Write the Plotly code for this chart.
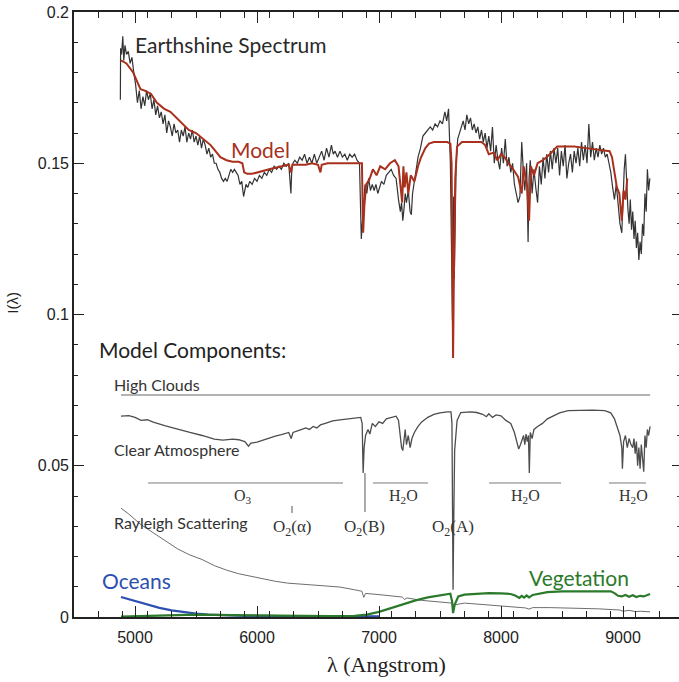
import plotly.graph_objects as go

# ---------------- data ----------------
# Observed earthshine spectrum (wavelength in Angstrom, intensity)
es_wl = [4880, 4882, 4890, 4900, 4908, 4918, 4930, 4945, 4960, 4975, 4990, 5005, 5020, 5035,
         5050, 5065, 5080, 5095, 5110, 5125, 5140, 5155, 5170, 5185, 5200, 5215, 5230, 5245,
         5260, 5275, 5290, 5305, 5320, 5335, 5350, 5365, 5380, 5395, 5410, 5425, 5440, 5455,
         5470, 5485, 5500, 5515, 5530, 5545, 5560, 5575, 5590, 5605, 5620, 5635, 5650, 5665,
         5680, 5695, 5710, 5725, 5740, 5755, 5770, 5785, 5800, 5815, 5830, 5845, 5860, 5875,
         5890, 5900, 5910, 5925, 5940, 5960, 5980, 6000, 6020, 6040, 6060, 6080, 6100, 6120,
         6140, 6160, 6180, 6200, 6220, 6240, 6260, 6278, 6285, 6295, 6310, 6330, 6350, 6370,
         6390, 6410, 6430, 6450, 6470, 6490, 6510, 6530, 6550, 6570, 6590, 6610, 6625, 6640,
         6660, 6680, 6700, 6720, 6740, 6760, 6780, 6800, 6820, 6840, 6855, 6870, 6885, 6900,
         6915, 6930, 6945, 6960, 6975, 6990, 7005, 7020, 7040, 7060, 7080, 7100, 7120, 7140,
         7160, 7175, 7185, 7195, 7205, 7215, 7225, 7240, 7255, 7265, 7275, 7290, 7305, 7320,
         7340, 7360, 7380, 7400, 7420, 7440, 7460, 7480, 7500, 7520, 7540, 7555, 7570, 7585,
         7596, 7602, 7607, 7612, 7617, 7623, 7632, 7645, 7660, 7675, 7690, 7705, 7720, 7735,
         7750, 7765, 7780, 7795, 7810, 7825, 7840, 7855, 7870, 7885, 7900, 7915, 7930, 7945,
         7960, 7975, 7990, 8005, 8020, 8035, 8050, 8065, 8080, 8095, 8110, 8125, 8140, 8155,
         8170, 8185, 8195, 8210, 8222, 8230, 8240, 8255, 8270, 8285, 8300, 8315, 8330, 8345,
         8360, 8375, 8390, 8405, 8420, 8435, 8450, 8465, 8480, 8495, 8510, 8525, 8540, 8555,
         8570, 8585, 8600, 8615, 8630, 8645, 8660, 8675, 8690, 8705, 8720, 8735, 8750, 8765,
         8780, 8795, 8810, 8825, 8840, 8855, 8870, 8885, 8900, 8915, 8930, 8945, 8960, 8975,
         8990, 9000, 9010, 9020, 9030, 9040, 9050, 9060, 9070, 9080, 9090, 9100, 9110, 9120,
         9130, 9140, 9150, 9160, 9170, 9180, 9190, 9200, 9210, 9220, 9228]
es_val = [0.171, 0.188, 0.186, 0.192, 0.184, 0.189, 0.186, 0.187, 0.183, 0.185, 0.180, 0.176,
          0.170, 0.174, 0.168, 0.172, 0.169, 0.174, 0.171, 0.173, 0.168, 0.171, 0.166, 0.169,
          0.165, 0.167, 0.163, 0.166, 0.160, 0.164, 0.162, 0.159, 0.163, 0.160, 0.161, 0.157,
          0.161, 0.159, 0.162, 0.157, 0.160, 0.158, 0.161, 0.157, 0.159, 0.156, 0.159, 0.155,
          0.158, 0.156, 0.153, 0.155, 0.152, 0.153, 0.150, 0.150, 0.148, 0.147, 0.145, 0.144,
          0.145, 0.144, 0.146, 0.148, 0.147, 0.148, 0.147, 0.146, 0.143, 0.144, 0.139, 0.141,
          0.143, 0.142, 0.144, 0.143, 0.145, 0.144, 0.146, 0.145, 0.147, 0.146, 0.148, 0.147,
          0.149, 0.148, 0.149, 0.148, 0.150, 0.149, 0.150, 0.140, 0.148, 0.150, 0.151, 0.150,
          0.152, 0.151, 0.153, 0.150, 0.152, 0.150, 0.153, 0.150, 0.152, 0.154, 0.151, 0.155,
          0.152, 0.156, 0.153, 0.154, 0.152, 0.154, 0.152, 0.153, 0.151, 0.153, 0.152, 0.153,
          0.151, 0.150, 0.125, 0.136, 0.143, 0.140, 0.145, 0.141, 0.143, 0.141, 0.143, 0.140,
          0.142, 0.144, 0.143, 0.146, 0.147, 0.148, 0.146, 0.145, 0.138, 0.134, 0.137, 0.131,
          0.135, 0.140, 0.137, 0.141, 0.134, 0.133, 0.140, 0.144, 0.149, 0.152, 0.155, 0.159,
          0.160, 0.161, 0.162, 0.161, 0.163, 0.162, 0.164, 0.163, 0.167, 0.164, 0.168, 0.150,
          0.105, 0.098, 0.108, 0.139, 0.112, 0.135, 0.150, 0.158, 0.160, 0.162, 0.164, 0.161,
          0.166, 0.163, 0.165, 0.161, 0.163, 0.160, 0.162, 0.158, 0.161, 0.157, 0.160, 0.155,
          0.159, 0.154, 0.162, 0.150, 0.156, 0.151, 0.148, 0.155, 0.150, 0.158, 0.149, 0.152,
          0.147, 0.150, 0.143, 0.140, 0.137, 0.139, 0.157, 0.146, 0.141, 0.150, 0.124, 0.145,
          0.151, 0.140, 0.148, 0.142, 0.137, 0.149, 0.143, 0.152, 0.145, 0.153, 0.147, 0.154,
          0.148, 0.155, 0.150, 0.155, 0.146, 0.154, 0.149, 0.156, 0.145, 0.150, 0.153, 0.147,
          0.154, 0.150, 0.155, 0.149, 0.157, 0.151, 0.156, 0.150, 0.163, 0.152, 0.157, 0.151,
          0.155, 0.152, 0.156, 0.153, 0.155, 0.152, 0.153, 0.150, 0.147, 0.142, 0.138, 0.143,
          0.137, 0.130, 0.127, 0.140, 0.148, 0.153, 0.141, 0.135, 0.130, 0.138, 0.128, 0.134,
          0.125, 0.131, 0.122, 0.127, 0.118, 0.124, 0.120, 0.130, 0.126, 0.140, 0.134, 0.148,
          0.141, 0.145]

# Fitted model spectrum
model_wl = [4885, 4930, 4985, 5020, 5045, 5080, 5130, 5180, 5240, 5290, 5340, 5390, 5440,
            5500, 5560, 5620, 5660, 5700, 5750, 5800, 5850, 5880, 5895, 5920, 5960, 6000,
            6050, 6100, 6150, 6200, 6260, 6280, 6290, 6350, 6400, 6450, 6500, 6520, 6530,
            6580, 6860, 6870, 6880, 6895, 6920, 6950, 6980, 7010, 7050, 7090, 7130, 7160,
            7175, 7190, 7200, 7210, 7225, 7240, 7260, 7290, 7320, 7345, 7380, 7410, 7450,
            7500, 7560, 7585, 7595, 7601, 7607, 7613, 7625, 7640, 7680, 7760, 7840, 7870,
            7900, 7940, 7970, 8000, 8030, 8060, 8100, 8140, 8170, 8185, 8200, 8215, 8230,
            8245, 8270, 8300, 8344, 8400, 8460, 8520, 8600, 8700, 8800, 8890, 8910, 8930,
            8950, 8970, 8990, 9005, 9020, 9035]
model_val = [0.184, 0.183, 0.180, 0.177, 0.1745, 0.174, 0.173, 0.170, 0.168, 0.167, 0.165,
             0.163, 0.161, 0.160, 0.158, 0.156, 0.154, 0.152, 0.151, 0.1505, 0.1505, 0.150,
             0.147, 0.1465, 0.1465, 0.147, 0.1475, 0.148, 0.1485, 0.149, 0.1495, 0.147,
             0.1495, 0.1495, 0.1495, 0.150, 0.1495, 0.147, 0.1495, 0.150, 0.150, 0.127,
             0.136, 0.143, 0.1445, 0.148, 0.146, 0.149, 0.148, 0.150, 0.151, 0.149, 0.143,
             0.137, 0.149, 0.142, 0.147, 0.140, 0.146, 0.144, 0.149, 0.152, 0.155, 0.1565,
             0.157, 0.157, 0.157, 0.1565, 0.150, 0.120, 0.0856, 0.110, 0.145, 0.1555, 0.157,
             0.157, 0.157, 0.156, 0.153, 0.1535, 0.151, 0.153, 0.152, 0.150, 0.148, 0.1455,
             0.140, 0.149, 0.145, 0.142, 0.131, 0.149, 0.146, 0.150, 0.151, 0.153, 0.1555,
             0.1555, 0.1555, 0.155, 0.1545, 0.154, 0.152, 0.147, 0.142, 0.140, 0.131, 0.141,
             0.138, 0.145]

# Model components
clouds_wl = [4885, 9222]
clouds_val = [0.0734, 0.0734]

clear_wl = [4885, 4950, 5000, 5050, 5100, 5150, 5250, 5350, 5450, 5550, 5650, 5720, 5800,
            5850, 5900, 5930, 5950, 6000, 6050, 6100, 6150, 6200, 6260, 6280, 6295, 6350,
            6400, 6430, 6460, 6490, 6520, 6560, 6620, 6680, 6750, 6850, 6862, 6870, 6878,
            6890, 6910, 6925, 6945, 6970, 7000, 7030, 7060, 7100, 7140, 7160, 7175, 7185,
            7195, 7205, 7215, 7225, 7240, 7255, 7270, 7290, 7320, 7350, 7400, 7450, 7500,
            7560, 7590, 7598, 7603, 7607, 7612, 7620, 7640, 7670, 7750, 7800, 7850, 7880,
            7900, 7930, 7960, 8000, 8040, 8080, 8110, 8130, 8145, 8160, 8175, 8185, 8195,
            8205, 8215, 8225, 8232, 8240, 8255, 8270, 8300, 8340, 8380, 8430, 8480, 8550,
            8650, 8750, 8850, 8900, 8930, 8955, 8975, 8990, 8995, 9005, 9020, 9035, 9050,
            9065, 9080, 9090, 9100, 9110, 9120, 9130, 9140, 9150, 9160, 9170, 9180, 9190,
            9200, 9210, 9222]
clear_val = [0.0664, 0.0666, 0.0660, 0.0650, 0.0652, 0.0644, 0.0632, 0.0620, 0.0610, 0.0600,
             0.0588, 0.0585, 0.0588, 0.0586, 0.0580, 0.0565, 0.0575, 0.0578, 0.0585, 0.0592,
             0.0598, 0.0603, 0.0610, 0.0590, 0.0610, 0.0618, 0.0625, 0.0620, 0.0630, 0.0625,
             0.0635, 0.0640, 0.0648, 0.0652, 0.0656, 0.0660, 0.0640, 0.0476, 0.0560, 0.0600,
             0.0620, 0.0605, 0.0640, 0.0630, 0.0645, 0.0640, 0.0655, 0.0660, 0.0664, 0.0650,
             0.0600, 0.0560, 0.0550, 0.0600, 0.0620, 0.0570, 0.0600, 0.0560, 0.0590, 0.0610,
             0.0630, 0.0645, 0.0660, 0.0670, 0.0675, 0.0678, 0.0678, 0.0640, 0.0300, 0.0090,
             0.0300, 0.0550, 0.0650, 0.0676, 0.0678, 0.0676, 0.0670, 0.0662, 0.0672, 0.0660,
             0.0668, 0.0665, 0.0650, 0.0640, 0.0610, 0.0580, 0.0555, 0.0570, 0.0585, 0.0600,
             0.0570, 0.0605, 0.0580, 0.0600, 0.0476, 0.0610, 0.0590, 0.0620, 0.0630, 0.0640,
             0.0655, 0.0665, 0.0675, 0.0682, 0.0684, 0.0684, 0.0682, 0.0675, 0.0655, 0.0620,
             0.0600, 0.0560, 0.0490, 0.0580, 0.0600, 0.0560, 0.0590, 0.0570, 0.0560, 0.0590,
             0.0540, 0.0580, 0.0500, 0.0560, 0.0490, 0.0570, 0.0520, 0.0480, 0.0600, 0.0560,
             0.0620, 0.0600, 0.0630]

rayleigh_wl = [4885, 4950, 5050, 5150, 5250, 5350, 5450, 5550, 5650, 5750, 5850, 5950, 6050,
               6150, 6250, 6350, 6450, 6550, 6680, 6800, 6860, 6875, 6890, 7000, 7100, 7190,
               7210, 7230, 7350, 7500, 7598, 7607, 7620, 7700, 7900, 8100, 8200, 8230, 8260,
               8400, 8600, 8800, 8975, 9000, 9050, 9100, 9150, 9222]
rayleigh_val = [0.0360, 0.0340, 0.0305, 0.0278, 0.0250, 0.0225, 0.0205, 0.0190, 0.0170,
                0.0155, 0.0143, 0.0135, 0.0125, 0.0118, 0.0112, 0.0110, 0.0106, 0.0103,
                0.0099, 0.0090, 0.0085, 0.0065, 0.0078, 0.0074, 0.0070, 0.0066, 0.0058,
                0.0063, 0.0055, 0.0050, 0.0046, 0.0015, 0.0040, 0.0046, 0.0040, 0.0034,
                0.0030, 0.0026, 0.0031, 0.0031, 0.0030, 0.0027, 0.0023, 0.0019, 0.0022,
                0.0018, 0.0019, 0.0017]

ocean_wl = [4885, 5000, 5100, 5200, 5300, 5400, 5500, 5600, 5700, 5900, 6200, 6600, 7000]
ocean_val = [0.0066, 0.0052, 0.0040, 0.0030, 0.0022, 0.0016, 0.0011, 0.0008, 0.0006, 0.0004,
             0.0003, 0.0002, 0.0002]

veg_wl = [4885, 5200, 5500, 5800, 6200, 6600, 6800, 6900, 7000, 7100, 7200, 7300, 7400, 7500,
          7585, 7600, 7607, 7620, 7650, 7700, 7800, 7900, 8000, 8080, 8120, 8150, 8170, 8190,
          8210, 8230, 8260, 8300, 8380, 8500, 8700, 8900, 8930, 8960, 8990, 9020, 9050, 9080,
          9110, 9140, 9170, 9200, 9222]
veg_val = [0.0001, 0.0005, 0.0008, 0.0006, 0.0004, 0.0003, 0.0004, 0.0008, 0.0017, 0.0030,
           0.0043, 0.0055, 0.0065, 0.0072, 0.0077, 0.0050, 0.0013, 0.0040, 0.0068, 0.0074,
           0.0076, 0.0079, 0.0078, 0.0076, 0.0070, 0.0063, 0.0070, 0.0064, 0.0071, 0.0065,
           0.0073, 0.0076, 0.0082, 0.0085, 0.0086, 0.0085, 0.0079, 0.0070, 0.0068, 0.0073,
           0.0067, 0.0072, 0.0066, 0.0070, 0.0068, 0.0074, 0.0076]

# Absorption band extents (start, end) and their labels
band_level = 0.0443
band_ranges = [(5107, 6705), (6951, 7402), (7902, 8492), (8885, 9189)]
band_names = ["O<sub>3</sub>", "H<sub>2</sub>O", "H<sub>2</sub>O", "H<sub>2</sub>O"]
band_label_wl = [5885, 7197, 8197, 9082]

# Single-line features: wavelength, marker span (bottom, top), label
line_wl = [6287, 6885, 7607]
line_marker = [(0.0344, 0.0367), (0.0347, 0.0476), None]
line_names = ["O<sub>2</sub>(α)", "O<sub>2</sub>(B)", "O<sub>2</sub>(A)"]

x_ticks = [5000, 6000, 7000, 8000, 9000]
y_ticks = [0, 0.05, 0.1, 0.15, 0.2]
y_tick_text = ["0", "0.05", "0.1", "0.15", "0.2"]

# ---------------- figure ----------------
fig = go.Figure()

def add_line(x, y, color, width):
    fig.add_trace(go.Scatter(x=x, y=y, mode="lines", showlegend=False, hoverinfo="skip",
                             line=dict(color=color, width=width)))

add_line(clouds_wl, clouds_val, "#9a9a9a", 1.4)
add_line(rayleigh_wl, rayleigh_val, "#6e6e6e", 1.0)
add_line(ocean_wl, ocean_val, "#2c4fb0", 2.2)
add_line(veg_wl, veg_val, "#2b7a2b", 2.2)
add_line(clear_wl, clear_val, "#4d4d4d", 1.3)

for (a, b) in band_ranges:
    add_line([a, b], [band_level, band_level], "#7a7a7a", 1.0)
for wl, mk in zip(line_wl, line_marker):
    if mk is not None:
        add_line([wl, wl], list(mk), "#555555", 1.0)

add_line(es_wl, es_val, "#333333", 1.2)
add_line(model_wl, model_val, "#a8301c", 2.0)

ann = []
sans = "Lato, Open Sans, sans-serif"
serif = "Liberation Serif, DejaVu Serif, serif"

def label(text, x, y, size, color, family=sans, xanchor="left"):
    ann.append(dict(text=text, x=x, y=y, xref="x", yref="y", showarrow=False,
                    xanchor=xanchor, yanchor="middle",
                    font=dict(family=family, size=size, color=color)))

label("Earthshine Spectrum", 4984, 0.1891, 21, "#2a2a2a")
label("Model", 5770, 0.1544, 21, "#a8301c")
label("Model Components:", 4689, 0.0883, 21, "#222222")
label("High Clouds", 4811, 0.0767, 16, "#333333")
label("Clear Atmosphere", 4811, 0.0555, 16, "#333333")
label("Rayleigh Scattering", 4811, 0.0311, 16, "#333333")
label("Oceans", 4713, 0.0122, 21, "#2c4fb0")
label("Vegetation", 8213, 0.0132, 21, "#2b7a2b")

for name, wl in zip(band_names, band_label_wl):
    label(name, wl, 0.0400, 16, "#333333", family=serif, xanchor="center")
for name, wl in zip(line_names, line_wl):
    label(name, wl, 0.0294, 17, "#333333", family=serif, xanchor="center")

# axis titles
ann.append(dict(text="λ (Angstrom)", x=0.516, y=-0.079, xref="paper", yref="paper",
                showarrow=False, xanchor="center", yanchor="middle",
                font=dict(family=serif, size=22, color="#222222")))
ann.append(dict(text="I(λ)", x=-0.102, y=0.52, xref="paper", yref="paper", textangle=-90,
                showarrow=False, xanchor="center", yanchor="middle",
                font=dict(family="Liberation Sans, Arial, sans-serif", size=15, color="#222222")))

tickfont = dict(family="Liberation Sans, Arial, sans-serif", size=16, color="#222222")

fig.update_layout(
    width=679, height=682,
    margin=dict(l=74, r=0, t=12, b=65),
    paper_bgcolor="white", plot_bgcolor="white",
    annotations=ann,
    xaxis=dict(range=[4500, 9459], tickvals=x_ticks, ticktext=[str(v) for v in x_ticks],
               ticks="inside", ticklen=11, tickwidth=1.3, tickcolor="#222",
               ticklabelstandoff=5,
               minor=dict(dtick=200, tick0=4500, ticks="inside", ticklen=6, tickwidth=1.1,
                          tickcolor="#222"),
               showline=True, linecolor="#222", linewidth=1.6, mirror="ticks",
               showgrid=False, zeroline=False, tickfont=tickfont),
    yaxis=dict(range=[0, 0.2], tickvals=y_ticks, ticktext=y_tick_text,
               ticks="inside", ticklen=10, tickwidth=1.3, tickcolor="#222",
               minor=dict(dtick=0.01, tick0=0, ticks="inside", ticklen=4, tickwidth=1.1,
                          tickcolor="#222"),
               showline=True, linecolor="#222", linewidth=1.6,
               showgrid=False, zeroline=False, tickfont=tickfont),
    yaxis2=dict(range=[0, 0.2], overlaying="y", side="right", tickvals=y_ticks,
                showticklabels=False, ticks="inside", ticklen=7, tickwidth=1.3,
                tickcolor="#222",
                minor=dict(dtick=0.01, tick0=0, ticks="inside", ticklen=2, tickwidth=1.1,
                           tickcolor="#444"),
                showline=False, showgrid=False, zeroline=False),
)

# invisible trace so the right-hand tick axis is drawn
fig.add_trace(go.Scatter(x=[4500], y=[0], yaxis="y2", mode="lines", showlegend=False,
                         hoverinfo="skip", line=dict(width=0)))

fig.write_html("out.html")
